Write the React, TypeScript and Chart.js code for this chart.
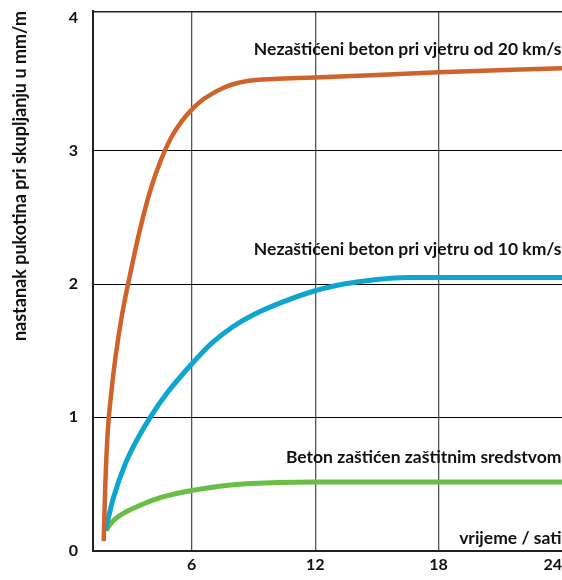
import React, { useEffect, useRef } from "react";
import { Chart, registerables } from "chart.js";

Chart.register(...registerables);

// ---- data ----
const xTickValues = [6, 12, 18, 24];
const yTickValues = [0, 1, 2, 3, 4];

const wind20Hours = [1.72, 1.8, 1.92, 2.1, 2.3, 2.6, 3.0, 3.5, 4.0, 4.5, 5.0, 5.5, 6.0, 6.5, 7.0, 7.5, 8.0, 8.7, 10.0, 12.0, 18.0, 24.0];
const wind20Values = [0.07, 0.5, 0.9, 1.2, 1.46, 1.76, 2.07, 2.42, 2.71, 2.93, 3.1, 3.22, 3.31, 3.38, 3.43, 3.47, 3.5, 3.525, 3.54, 3.55, 3.59, 3.62];

const wind10Hours = [1.8, 2.2, 2.77, 3.3, 3.98, 4.79, 6.0, 7.0, 8.0, 9.0, 10.5, 12.0, 13.4, 15.0, 16.5, 24.0];
const wind10Values = [0.15, 0.4, 0.65, 0.82, 1.0, 1.18, 1.4, 1.56, 1.68, 1.77, 1.87, 1.95, 2.0, 2.035, 2.05, 2.05];

const protectedHours = [1.85, 2.0, 2.3, 2.8, 3.5, 4.55, 6.0, 7.77, 10.2, 12.0, 24.0];
const protectedValues = [0.15, 0.19, 0.24, 0.29, 0.34, 0.4, 0.45, 0.49, 0.51, 0.515, 0.515];

const seriesNames = [
  "Nezaštićeni beton pri vjetru od 20 km/s",
  "Nezaštićeni beton pri vjetru od 10 km/s",
  "Beton zaštićen zaštitnim sredstvom",
];
const xAxisTitle = "vrijeme / sati";
const yAxisTitle = "nastanak pukotina pri skupljanju u mm/m";

const FONT = "Lato, 'Open Sans', sans-serif";

const toPoints = (xs: number[], ys: number[]) => xs.map((x, i) => ({ x, y: ys[i] }));

const frameAndLabels = {
  id: "frameAndLabels",
  beforeDatasetsDraw(chart: any) {
    const { ctx, chartArea } = chart;
    ctx.save();
    ctx.strokeStyle = "#222";
    ctx.lineWidth = 1.5;
    ctx.beginPath();
    ctx.moveTo(chartArea.left, chartArea.top + 0.75);
    ctx.lineTo(chartArea.right, chartArea.top + 0.75);
    ctx.stroke();
    ctx.restore();
  },
  afterDatasetsDraw(chart: any) {
    const { ctx, chartArea, scales } = chart;
    const ys = scales.y;
    const labelAt = [3.76, 2.26, 0.7];
    ctx.save();
    ctx.fillStyle = "#111";
    ctx.font = `bold 17.5px ${FONT}`;
    ctx.textAlign = "right";
    ctx.textBaseline = "middle";
    seriesNames.forEach((name, i) => {
      ctx.fillText(name, chartArea.right - 0.5, ys.getPixelForValue(labelAt[i]));
    });
    ctx.fillText(xAxisTitle, chartArea.right - 0.5, ys.getPixelForValue(0.09));
    ctx.restore();
  },
};

export default function App() {
  const ref = useRef<HTMLCanvasElement | null>(null);

  useEffect(() => {
    if (!ref.current) return;
    const chart = new Chart(ref.current, {
      type: "line",
      data: {
        datasets: [
          {
            label: seriesNames[0],
            data: toPoints(wind20Hours, wind20Values),
            borderColor: "#D0632B",
            borderWidth: 4.5,
            pointRadius: 0,
            cubicInterpolationMode: "monotone",
            fill: false,
          },
          {
            label: seriesNames[1],
            data: toPoints(wind10Hours, wind10Values),
            borderColor: "#0EA5CF",
            borderWidth: 5,
            pointRadius: 0,
            cubicInterpolationMode: "monotone",
            fill: false,
          },
          {
            label: seriesNames[2],
            data: toPoints(protectedHours, protectedValues),
            borderColor: "#6ABD45",
            borderWidth: 5,
            pointRadius: 0,
            cubicInterpolationMode: "monotone",
            fill: false,
          },
        ],
      },
      options: {
        responsive: false,
        animation: false,
        layout: { padding: { top: 11, left: 0, right: 0, bottom: 0 } },
        plugins: {
          legend: { display: false },
          tooltip: { enabled: false },
        },
        scales: {
          x: {
            type: "linear",
            min: 1.2,
            max: 24,
            afterBuildTicks: (s: any) => {
              s.ticks = [{ value: 1.2 }, ...xTickValues.map((v) => ({ value: v }))];
            },
            afterFit: (s: any) => {
              s.paddingLeft = 0;
              s.paddingRight = 0;
              s.height = 29.5;
            },
            ticks: {
              align: "inner",
              padding: 5,
              color: "#111",
              font: { family: FONT, size: 16, weight: "bold" },
              callback: (v: any) => (xTickValues.includes(v) ? String(v) : ""),
            },
            grid: {
              drawTicks: false,
              color: (c: any) => (c.tick && (c.tick.value === 24 || c.tick.value === 1.2) ? "rgba(0,0,0,0)" : "#555"),
              lineWidth: 1.3,
            },
            border: { display: true, color: "#222", width: 2 },
          },
          y: {
            type: "linear",
            min: 0,
            max: 4.05,
            afterBuildTicks: (s: any) => {
              s.ticks = yTickValues.map((v) => ({ value: v }));
            },
            afterFit: (s: any) => {
              s.paddingTop = 0;
              s.paddingBottom = 0;
              s.width = 93;
            },
            ticks: {
              padding: 15,
              color: "#111",
              font: { family: FONT, size: 16, weight: "bold" },
              callback: (v: any) => String(v),
            },
            grid: {
              drawTicks: false,
              color: (c: any) => (c.tick && (c.tick.value === 4 || c.tick.value === 0) ? "rgba(0,0,0,0)" : "#000"),
              lineWidth: 1,
            },
            border: { display: true, color: "#222", width: 2 },
            title: {
              display: true,
              text: yAxisTitle,
              align: "end",
              color: "#111",
              font: { family: FONT, size: 18, weight: "bold" },
              padding: { top: 9, bottom: 0 },
            },
          },
        },
      },
      plugins: [frameAndLabels],
    } as any);
    return () => chart.destroy();
  }, []);

  return (
    <div style={{ position: "absolute", left: 0, top: 0, width: 562, height: 580, background: "#fff" }}>
      <canvas ref={ref} width={562} height={580} />
    </div>
  );
}
